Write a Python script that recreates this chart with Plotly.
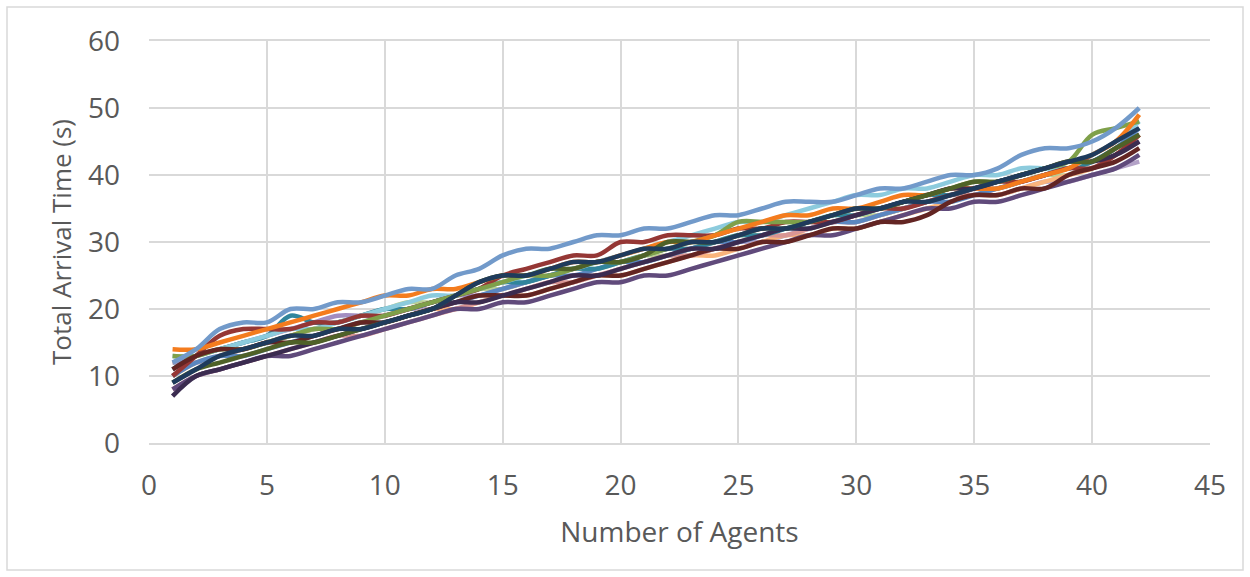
import plotly.graph_objects as go

agents = list(range(1, 43))

# Total arrival time (s) per run, one list per run
run_light_blue = [12, 14, 17, 18, 18, 20, 20, 21, 21, 22, 23, 23, 25, 26, 28, 29, 29, 30, 31, 31, 32,
                  32, 33, 34, 34, 35, 36, 36, 36, 37, 38, 38, 39, 40, 40, 41, 43, 44, 44, 45, 47, 50]
run_orange = [14, 14, 15, 16, 17, 18, 19, 20, 21, 22, 22, 23, 23, 24, 25, 25, 26, 27, 27, 28, 29,
              30, 30, 31, 32, 33, 34, 34, 35, 35, 36, 37, 37, 38, 38, 38, 39, 40, 41, 43, 45, 49]
run_cyan = [13, 13, 14, 15, 16, 17, 17, 18, 19, 20, 21, 22, 22, 23, 24, 25, 26, 26, 27, 28, 29,
            30, 31, 32, 33, 33, 34, 35, 36, 37, 37, 38, 38, 39, 40, 40, 41, 41, 41, 43, 45, 48]
run_green = [13, 13, 14, 14, 15, 16, 17, 17, 18, 19, 20, 21, 22, 23, 24, 25, 25, 26, 27, 27, 28,
             29, 30, 31, 33, 33, 33, 33, 34, 35, 35, 36, 37, 38, 39, 39, 40, 41, 42, 46, 47, 48]
run_pale_green = [12, 13, 14, 14, 15, 16, 17, 18, 19, 20, 21, 21, 22, 23, 23, 24, 25, 26, 26, 27, 28,
                  28, 29, 30, 31, 31, 32, 32, 33, 34, 34, 35, 36, 37, 38, 38, 39, 40, 40, 42, 43, 46]
run_lavender = [12, 13, 14, 15, 16, 17, 18, 19, 19, 19, 20, 21, 22, 22, 23, 24, 25, 26, 27, 27, 28,
                29, 29, 30, 31, 32, 32, 33, 33, 34, 35, 36, 37, 37, 38, 38, 39, 40, 41, 41, 43, 45]
run_pale_lavender = [12, 12, 13, 14, 15, 16, 17, 17, 18, 19, 20, 20, 21, 22, 22, 23, 24, 25, 25, 26, 27,
                     28, 28, 29, 30, 30, 31, 32, 33, 33, 34, 35, 36, 37, 37, 37, 38, 39, 39, 40, 41, 42]
run_peach = [10, 12, 13, 14, 15, 16, 17, 17, 18, 18, 19, 20, 20, 21, 22, 22, 23, 24, 25, 25, 26,
             27, 28, 28, 29, 30, 31, 31, 32, 32, 33, 34, 35, 36, 37, 37, 38, 39, 40, 41, 43, 46]
run_pink = [8, 10, 11, 12, 13, 14, 15, 16, 16, 17, 18, 19, 20, 21, 22, 23, 24, 24, 25, 26, 27,
            28, 28, 29, 30, 31, 31, 32, 33, 33, 34, 35, 36, 37, 37, 38, 39, 40, 41, 42, 44, 46]
run_mid_blue = [10, 12, 13, 13, 14, 15, 16, 17, 18, 18, 19, 20, 21, 22, 23, 24, 25, 25, 26, 27, 27,
                28, 29, 30, 30, 31, 32, 32, 33, 33, 34, 35, 36, 36, 37, 38, 39, 40, 41, 42, 44, 47]
run_teal = [11, 13, 14, 15, 16, 19, 18, 18, 19, 20, 20, 21, 22, 23, 24, 24, 25, 26, 26, 27, 28,
            29, 29, 30, 31, 31, 32, 33, 34, 34, 35, 36, 37, 37, 38, 39, 40, 41, 41, 42, 44, 46]
run_dark_red = [10, 13, 16, 17, 17, 17, 18, 18, 19, 19, 20, 21, 22, 23, 25, 26, 27, 28, 28, 30, 30,
                31, 31, 31, 32, 32, 33, 33, 33, 34, 35, 35, 36, 37, 38, 39, 39, 40, 41, 41, 43, 46]
run_purple = [8, 10, 11, 12, 13, 13, 14, 15, 16, 17, 18, 19, 20, 20, 21, 21, 22, 23, 24, 24, 25,
              25, 26, 27, 28, 29, 30, 31, 31, 32, 33, 34, 35, 35, 36, 36, 37, 38, 39, 40, 41, 43]
run_maroon = [11, 13, 14, 14, 15, 15, 16, 17, 18, 18, 19, 20, 21, 22, 22, 22, 23, 24, 25, 25, 26,
              27, 28, 29, 29, 30, 30, 31, 32, 32, 33, 33, 34, 36, 37, 37, 38, 38, 40, 41, 42, 44]
run_eggplant = [7, 10, 11, 12, 13, 14, 15, 16, 17, 18, 19, 20, 21, 21, 22, 23, 24, 25, 25, 26, 27,
                28, 29, 29, 30, 31, 32, 32, 33, 34, 35, 36, 37, 38, 38, 39, 40, 41, 42, 42, 43, 45]
run_olive = [9, 11, 12, 13, 14, 15, 15, 16, 17, 18, 19, 20, 22, 24, 25, 25, 26, 26, 27, 27, 28,
             30, 30, 30, 31, 32, 32, 33, 34, 35, 35, 36, 37, 38, 39, 39, 40, 41, 42, 42, 44, 46]
run_navy = [9, 11, 13, 14, 15, 16, 16, 17, 17, 18, 19, 20, 22, 24, 25, 25, 26, 27, 27, 28, 29,
            29, 30, 30, 31, 32, 32, 33, 34, 35, 35, 36, 36, 37, 38, 39, 40, 41, 42, 43, 45, 47]

runs = [
    (run_pale_lavender, "#B3A2C7"),
    (run_pale_green, "#B9CF93"),
    (run_peach, "#FAB47C"),
    (run_pink, "#D99694"),
    (run_lavender, "#A28DC0"),
    (run_mid_blue, "#5B87C0"),
    (run_teal, "#31859C"),
    (run_cyan, "#8CCBDD"),
    (run_dark_red, "#953735"),
    (run_purple, "#604A7B"),
    (run_green, "#7FA04A"),
    (run_orange, "#F47C1E"),
    (run_light_blue, "#729ACA"),
    (run_maroon, "#632523"),
    (run_eggplant, "#3B2C50"),
    (run_olive, "#4F6228"),
    (run_navy, "#1F3B5C"),
]

fig = go.Figure()
for values, color in runs:
    fig.add_trace(go.Scatter(
        x=agents, y=values, mode="lines",
        line=dict(color=color, width=4.5, shape="spline", smoothing=1.0),
        showlegend=False, hoverinfo="skip",
    ))

font_family = "Open Sans"
text_color = "#595959"
grid_color = "#D9D9D9"

fig.update_layout(
    width=1250, height=577,
    margin=dict(l=149, r=40, t=41, b=134),
    paper_bgcolor="white", plot_bgcolor="white",
    font=dict(family=font_family, color=text_color, size=28),
    xaxis=dict(
        range=[0, 45], dtick=5, tick0=0,
        showgrid=True, gridcolor=grid_color, gridwidth=1.5,
        zeroline=False, showline=True, linecolor=grid_color, linewidth=1.5, mirror=True,
        ticks="", ticklabelstandoff=17,
        tickfont=dict(size=28, color=text_color),
        title=dict(text="Number of Agents", font=dict(size=28, color=text_color), standoff=20),
    ),
    yaxis=dict(
        range=[0, 60], dtick=10, tick0=0,
        showgrid=True, gridcolor=grid_color, gridwidth=1.5,
        zeroline=False, showline=False,
        ticks="", ticklabelstandoff=28,
        tickfont=dict(size=28, color=text_color),
        title=dict(text="Total Arrival Time (s)", font=dict(size=26, color=text_color), standoff=8),
    ),
    shapes=[dict(
        type="rect", xref="paper", yref="paper",
        x0=-142 / 1061, x1=(1243 - 149) / 1061,
        y0=-(570 - 443) / 402, y1=(443 - 7) / 402,
        line=dict(color=grid_color, width=1.5), fillcolor="rgba(0,0,0,0)", layer="below",
    )],
)

fig.write_html("out.html")
